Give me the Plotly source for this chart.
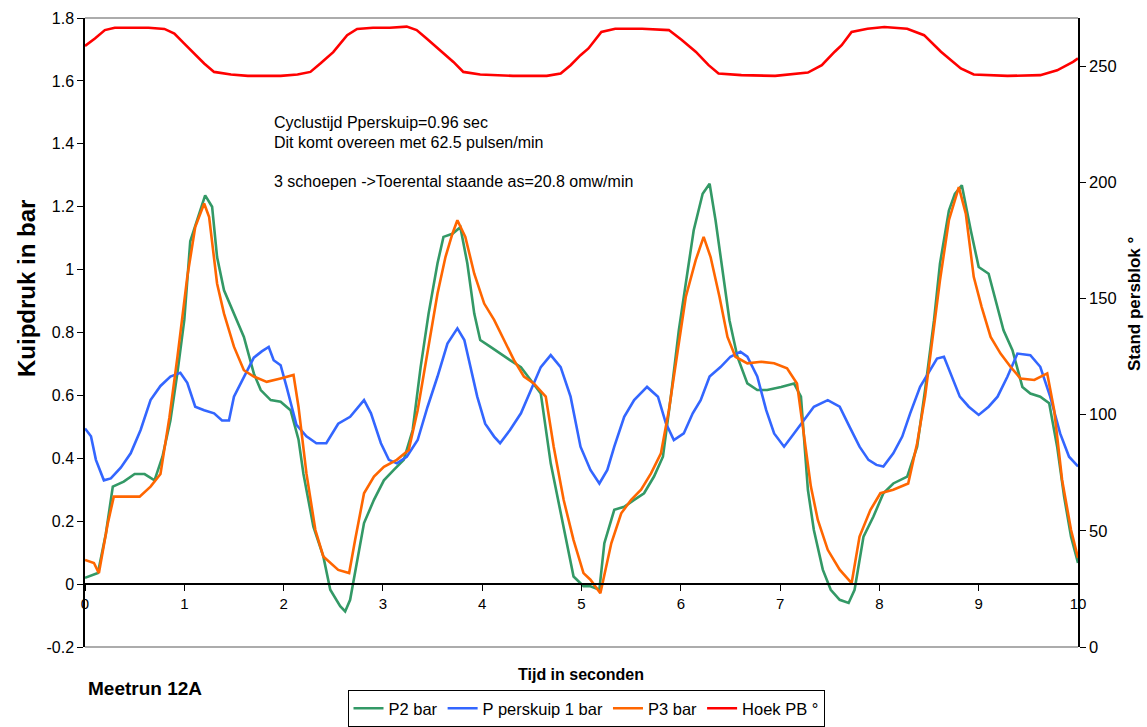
import plotly.graph_objects as go

# ---------------- data ----------------
t_p2 = [0, 0.13, 0.21, 0.28, 0.39, 0.5, 0.6, 0.7, 0.78, 0.86, 0.93, 1.0, 1.06, 1.13, 1.21, 1.28, 1.33, 1.4,
        1.5, 1.6, 1.7, 1.77, 1.87, 1.97, 2.07, 2.15, 2.2, 2.3, 2.4, 2.47, 2.57, 2.62, 2.67, 2.72, 2.81, 2.91,
        3.01, 3.11, 3.21, 3.3, 3.38, 3.46, 3.55, 3.61, 3.7, 3.78, 3.85, 3.92, 3.98, 4.08, 4.18, 4.28, 4.39,
        4.49, 4.59, 4.69, 4.79, 4.86, 4.92, 5.02, 5.09, 5.18, 5.23, 5.33, 5.43, 5.53, 5.63, 5.73, 5.82, 5.9,
        5.98, 6.07, 6.13, 6.22, 6.29, 6.35, 6.42, 6.49, 6.57, 6.67, 6.77, 6.87, 7.01, 7.14, 7.21, 7.28, 7.34,
        7.43, 7.51, 7.6, 7.69, 7.75, 7.84, 7.94, 8.04, 8.14, 8.28, 8.38, 8.46, 8.55, 8.61, 8.7, 8.76, 8.83,
        8.92, 9.0, 9.1, 9.17, 9.25, 9.34, 9.44, 9.52, 9.62, 9.71, 9.79, 9.86, 9.93, 10.0]
p2 = [0.02, 0.035, 0.16, 0.31, 0.326, 0.35, 0.35, 0.33, 0.405, 0.52, 0.67, 0.84, 1.09, 1.156, 1.236, 1.2, 1.04,
      0.934, 0.86, 0.786, 0.67, 0.617, 0.585, 0.58, 0.553, 0.46, 0.35, 0.183, 0.088, -0.018, -0.07, -0.087,
      -0.05, 0.035, 0.194, 0.268, 0.33, 0.363, 0.395, 0.49, 0.69, 0.86, 1.02, 1.104, 1.114, 1.135, 1.02, 0.86,
      0.776, 0.755, 0.733, 0.712, 0.69, 0.649, 0.606, 0.384, 0.225, 0.12, 0.024, -0.007, -0.007, -0.018, 0.13,
      0.236, 0.246, 0.268, 0.289, 0.342, 0.405, 0.596, 0.807, 0.998, 1.125, 1.241, 1.273, 1.157, 0.998, 0.839,
      0.723, 0.638, 0.617, 0.617, 0.627, 0.638, 0.596, 0.3, 0.172, 0.046, -0.018, -0.05, -0.06, -0.018, 0.151,
      0.215, 0.289, 0.32, 0.342, 0.437, 0.617, 0.839, 1.019, 1.188, 1.241, 1.268, 1.125, 1.008, 0.987, 0.903,
      0.807, 0.744, 0.627, 0.606, 0.596, 0.575, 0.437, 0.278, 0.151, 0.067]

t_pp = [0, 0.06, 0.11, 0.19, 0.26, 0.36, 0.46, 0.56, 0.66, 0.76, 0.86, 0.96, 1.03, 1.11, 1.2, 1.3, 1.38, 1.45,
        1.5, 1.6, 1.7, 1.78, 1.85, 1.9, 1.97, 2.03, 2.13, 2.23, 2.33, 2.43, 2.55, 2.67, 2.81, 2.88, 2.98, 3.06,
        3.14, 3.24, 3.35, 3.45, 3.55, 3.65, 3.75, 3.82, 3.88, 3.95, 4.03, 4.12, 4.18, 4.28, 4.39, 4.49, 4.59,
        4.69, 4.79, 4.89, 4.99, 5.09, 5.18, 5.26, 5.33, 5.43, 5.53, 5.66, 5.77, 5.85, 5.93, 6.03, 6.12, 6.2,
        6.29, 6.4, 6.5, 6.6, 6.67, 6.77, 6.86, 6.94, 7.04, 7.14, 7.24, 7.34, 7.48, 7.6, 7.7, 7.8, 7.89, 7.97,
        8.04, 8.14, 8.23, 8.31, 8.41, 8.51, 8.58, 8.65, 8.73, 8.81, 8.9, 9.0, 9.1, 9.19, 9.29, 9.39, 9.52,
        9.62, 9.72, 9.82, 9.91, 10.0]
pp = [0.495, 0.47, 0.395, 0.33, 0.336, 0.37, 0.416, 0.49, 0.585, 0.63, 0.66, 0.672, 0.64, 0.564, 0.553, 0.543,
      0.52, 0.52, 0.596, 0.66, 0.72, 0.74, 0.754, 0.712, 0.696, 0.627, 0.506, 0.47, 0.448, 0.448, 0.51, 0.532,
      0.585, 0.543, 0.448, 0.395, 0.384, 0.405, 0.458, 0.564, 0.66, 0.765, 0.813, 0.776, 0.69, 0.596, 0.51,
      0.469, 0.448, 0.49, 0.543, 0.617, 0.69, 0.728, 0.69, 0.596, 0.437, 0.363, 0.32, 0.363, 0.437, 0.532,
      0.585, 0.627, 0.596, 0.511, 0.458, 0.479, 0.543, 0.585, 0.66, 0.69, 0.723, 0.739, 0.723, 0.66, 0.553,
      0.479, 0.437, 0.479, 0.52, 0.564, 0.585, 0.564, 0.5, 0.437, 0.395, 0.379, 0.374, 0.416, 0.469, 0.543,
      0.627, 0.68, 0.717, 0.723, 0.66, 0.596, 0.564, 0.538, 0.564, 0.596, 0.66, 0.733, 0.728, 0.691, 0.596,
      0.479, 0.405, 0.374]

t_p3 = [0, 0.09, 0.14, 0.23, 0.29, 0.39, 0.55, 0.66, 0.76, 0.85, 0.93, 1.03, 1.11, 1.2, 1.25, 1.33, 1.4, 1.5,
        1.6, 1.7, 1.83, 1.97, 2.1, 2.15, 2.23, 2.32, 2.4, 2.55, 2.66, 2.72, 2.81, 2.91, 3.01, 3.14, 3.26, 3.35,
        3.45, 3.55, 3.63, 3.7, 3.75, 3.83, 3.92, 4.02, 4.12, 4.22, 4.32, 4.42, 4.52, 4.64, 4.72, 4.82, 4.92,
        5.02, 5.09, 5.19, 5.3, 5.4, 5.5, 5.6, 5.7, 5.8, 5.88, 5.97, 6.05, 6.15, 6.23, 6.3, 6.39, 6.47, 6.55,
        6.67, 6.81, 6.94, 7.07, 7.17, 7.24, 7.31, 7.38, 7.48, 7.6, 7.72, 7.8, 7.91, 8.01, 8.14, 8.29, 8.38,
        8.46, 8.55, 8.61, 8.7, 8.8, 8.87, 8.95, 9.03, 9.12, 9.22, 9.32, 9.42, 9.56, 9.69, 9.76, 9.84, 9.93, 10.0]
p3 = [0.077, 0.067, 0.035, 0.194, 0.278, 0.278, 0.278, 0.31, 0.35, 0.53, 0.72, 0.977, 1.135, 1.21, 1.167, 0.956,
      0.86, 0.755, 0.68, 0.66, 0.643, 0.654, 0.665, 0.564, 0.352, 0.172, 0.088, 0.045, 0.035, 0.14, 0.289,
      0.342, 0.373, 0.395, 0.426, 0.553, 0.733, 0.924, 1.04, 1.114, 1.157, 1.104, 0.987, 0.892, 0.84, 0.776,
      0.712, 0.66, 0.638, 0.596, 0.437, 0.268, 0.14, 0.035, 0.014, -0.029, 0.13, 0.225, 0.268, 0.3, 0.352,
      0.416, 0.553, 0.744, 0.913, 1.03, 1.104, 1.04, 0.913, 0.786, 0.723, 0.702, 0.707, 0.702, 0.686, 0.638,
      0.469, 0.31, 0.204, 0.109, 0.046, 0.003, 0.151, 0.236, 0.289, 0.3, 0.32, 0.448, 0.596, 0.818, 0.966,
      1.157, 1.262, 1.178, 0.977, 0.881, 0.786, 0.733, 0.691, 0.654, 0.649, 0.67, 0.553, 0.331, 0.172, 0.083]

t_hoek = [0, 0.1, 0.2, 0.3, 0.47, 0.64, 0.8, 0.9, 1.0, 1.1, 1.2, 1.3, 1.47, 1.64, 1.8, 1.97, 2.14, 2.27, 2.37,
          2.5, 2.64, 2.74, 2.9, 3.07, 3.24, 3.34, 3.44, 3.57, 3.71, 3.81, 3.98, 4.31, 4.65, 4.79, 4.89, 4.99,
          5.07, 5.2, 5.34, 5.61, 5.88, 6.01, 6.15, 6.28, 6.38, 6.61, 6.95, 7.28, 7.42, 7.55, 7.62, 7.72, 7.88,
          8.05, 8.28, 8.45, 8.62, 8.82, 8.95, 9.29, 9.62, 9.79, 9.95, 10.0]
hoek = [258.7, 261.9, 265.5, 266.5, 266.5, 266.5, 266.0, 264.0, 259.7, 255.4, 251.1, 247.5, 246.4, 245.8, 245.8,
        245.8, 246.4, 247.5, 251.1, 256.0, 263.3, 266.0, 266.5, 266.5, 267.0, 265.5, 261.9, 256.9, 251.8, 247.5,
        246.4, 245.8, 245.8, 246.8, 250.4, 254.7, 257.6, 264.7, 266.1, 266.1, 265.5, 261.2, 256.2, 250.4, 246.8,
        246.1, 245.8, 247.2, 250.4, 256.2, 259.0, 264.7, 266.1, 266.8, 266.1, 263.3, 256.2, 249.0, 246.4, 245.8,
        246.1, 248.2, 251.8, 253.3]

x_ticks = [0, 1, 2, 3, 4, 5, 6, 7, 8, 9, 10]
y_ticks = [-0.2, 0, 0.2, 0.4, 0.6, 0.8, 1.0, 1.2, 1.4, 1.6, 1.8]
y_ticktext = ["-0.2", "0", "0.2", "0.4", "0.6", "0.8", "1", "1.2", "1.4", "1.6", "1.8"]
y2_ticks = [0, 50, 100, 150, 200, 250]

annot_lines = ["Cyclustijd Pperskuip=0.96 sec",
               "Dit komt overeen met 62.5 pulsen/min",
               "3 schoepen ->Toerental staande as=20.8 omw/min"]

# ---------------- figure ----------------
FONT = "Liberation Sans, Arial, sans-serif"
fig = go.Figure()
lw = 2.6
fig.add_trace(go.Scatter(x=t_p2, y=p2, mode="lines", name="P2 bar",
                         line=dict(color="#339966", width=lw)))
fig.add_trace(go.Scatter(x=t_pp, y=pp, mode="lines", name="P perskuip 1 bar",
                         line=dict(color="#3366FF", width=lw)))
fig.add_trace(go.Scatter(x=t_p3, y=p3, mode="lines", name="P3 bar",
                         line=dict(color="#FF6600", width=lw)))
fig.add_trace(go.Scatter(x=t_hoek, y=hoek, mode="lines", name="Hoek PB °", yaxis="y2",
                         line=dict(color="#FF0000", width=lw)))

PL, PR, PT, PB = 85, 1078, 18, 647
PW, PH = PR - PL, PB - PT

fig.update_layout(
    width=1147, height=727,
    margin=dict(l=PL, r=1147 - PR, t=PT, b=727 - PB, autoexpand=False),
    paper_bgcolor="white", plot_bgcolor="white",
    font=dict(family=FONT, size=16, color="black"),
    xaxis=dict(range=[0, 10], tickvals=x_ticks, showgrid=False, zeroline=False,
               showline=True, linecolor="black", linewidth=1.5,
               ticks="outside", ticklen=6, tickcolor="black",
               anchor="free", position=0.1, tickfont=dict(size=15)),
    yaxis=dict(range=[-0.2, 1.8], tickvals=y_ticks, ticktext=y_ticktext, domain=[0, 1],
               showgrid=False, zeroline=False, showline=True, linecolor="black", linewidth=1.5,
               ticks="outside", ticklen=6, tickcolor="black", tickfont=dict(size=16)),
    yaxis2=dict(range=[0, 270.7], tickvals=y2_ticks, overlaying="y", side="right",
                showgrid=False, zeroline=False, showline=True, linecolor="black", linewidth=1.5,
                ticks="outside", ticklen=6, tickcolor="black", tickfont=dict(size=16.5)),
    legend=dict(orientation="h", x=(586 - PL) / PW, xanchor="center", y=(PB - 727) / PH, yanchor="bottom",
                bordercolor="black", borderwidth=1, bgcolor="white",
                font=dict(size=16.5), itemwidth=30, tracegroupgap=0),
    showlegend=True,
)

# gray plot-area border (top and bottom)
fig.add_shape(type="line", xref="paper", yref="paper", x0=0, x1=1, y0=1, y1=1,
              line=dict(color="#909090", width=1.5))
fig.add_shape(type="line", xref="paper", yref="paper", x0=0, x1=1, y0=0, y1=0,
              line=dict(color="#909090", width=1.5))

# text annotations
ann_y = [122, 142, 181]
for txt, ypx in zip(annot_lines, ann_y):
    fig.add_annotation(text=txt, xref="paper", yref="paper",
                       x=(272 - PL) / PW, y=(PB - ypx) / PH,
                       xanchor="left", yanchor="middle", showarrow=False,
                       font=dict(size=16, family=FONT))

fig.add_annotation(text="<b>Kuipdruk in bar</b>", xref="paper", yref="paper",
                   x=(26 - PL) / PW, y=(PB - 289) / PH, xanchor="center", yanchor="middle",
                   textangle=-90, showarrow=False, font=dict(size=24, family=FONT))
fig.add_annotation(text="<b>Tijd in seconden</b>", xref="paper", yref="paper",
                   x=(581 - PL) / PW, y=(PB - 674) / PH, xanchor="center", yanchor="middle",
                   showarrow=False, font=dict(size=16, family=FONT))
fig.add_annotation(text="<b>Meetrun 12A</b>", xref="paper", yref="paper",
                   x=(86 - PL) / PW, y=(PB - 688) / PH, xanchor="left", yanchor="middle",
                   showarrow=False, font=dict(size=19, family=FONT))
fig.add_annotation(text="<b>Stand persblok °</b>", xref="paper", yref="paper",
                   x=(1134 - PL) / PW, y=(PB - 304) / PH, xanchor="center", yanchor="middle",
                   textangle=-90, showarrow=False, font=dict(size=17, family=FONT))

fig.write_html("out.html")
